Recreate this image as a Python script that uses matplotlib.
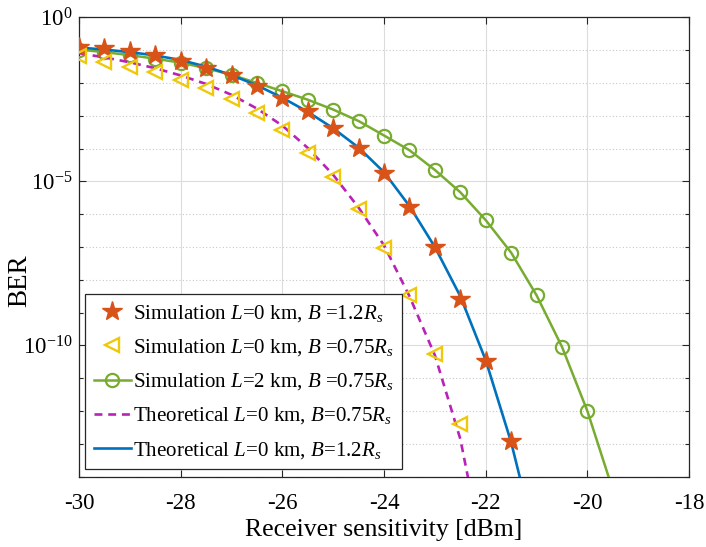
import numpy as np
import matplotlib
matplotlib.use("Agg")
import matplotlib.pyplot as plt
from matplotlib.ticker import LogLocator, FixedLocator, FuncFormatter, NullFormatter

plt.rcParams['font.family'] = ['Liberation Serif', 'DejaVu Serif']
plt.rcParams['mathtext.fontset'] = 'custom'
plt.rcParams['mathtext.rm'] = 'Liberation Serif'
plt.rcParams['mathtext.it'] = 'Liberation Serif:italic'
plt.rcParams['axes.unicode_minus'] = False

# received power (dBm) and log10(BER)
x_star = [-30, -29.5, -29, -28.5, -28, -27.5, -27, -26.5, -26, -25.5, -25, -24.5,
          -24, -23.5, -23, -22.5, -22, -21.5]
log_star = [-0.91, -0.94, -1.01, -1.14, -1.34, -1.55, -1.75, -2.08, -2.45, -2.86,
            -3.36, -3.97, -4.75, -5.78, -7.0, -8.57, -10.47, -12.9]

x_tri = [-30, -29.5, -29, -28.5, -28, -27.5, -27, -26.5, -26, -25.5, -25, -24.5,
         -24, -23.5, -23, -22.5]
log_tri = [-1.19, -1.35, -1.5, -1.65, -1.9, -2.15, -2.5, -2.91, -3.42, -4.12,
           -4.88, -5.84, -7.02, -8.47, -10.25, -12.4]

x_circ = [-30, -29.5, -29, -28.5, -28, -27.5, -27, -26.5, -26, -25.5, -25, -24.5,
          -24, -23.5, -23, -22.5, -22, -21.5, -21, -20.5, -20, -19.5]
log_circ = [-0.98, -1.06, -1.15, -1.26, -1.38, -1.55, -1.75, -2.0, -2.25, -2.51,
            -2.81, -3.16, -3.6, -4.05, -4.65, -5.33, -6.18, -7.17, -8.47, -10.04,
            -12.0, -14.4]

x_th075 = [-30, -29.5, -29, -28.5, -28, -27.5, -27, -26.5, -26, -25.5, -25, -24.5,
           -24, -23.5, -23, -22.5, -22.3]
log_th075 = [-1.09, -1.22, -1.37, -1.55, -1.77, -2.03, -2.36, -2.78, -3.3, -3.98,
             -4.8, -5.8, -6.95, -8.5, -10.3, -12.85, -14.4]

x_th12 = [-30, -29.5, -29, -28.5, -28, -27.5, -27, -26.5, -26, -25.5, -25, -24.5,
          -24, -23.5, -23, -22.5, -22, -21.5, -21.3]
log_th12 = [-0.92, -0.98, -1.06, -1.16, -1.3, -1.5, -1.76, -2.07, -2.45, -2.88,
            -3.38, -3.97, -4.72, -5.75, -7.0, -8.5, -10.45, -12.95, -14.2]

labels = [r"Simulation $L$=0 km, $B$ =1.2$R_s$",
          r"Simulation $L$=0 km, $B$ =0.75$R_s$",
          r"Simulation $L$=2 km, $B$ =0.75$R_s$",
          r"Theoretical $L$=0 km, $B$=0.75$R_s$",
          r"Theoretical $L$=0 km, $B$=1.2$R_s$"]

fig = plt.figure(figsize=(7.06, 5.47), dpi=100)
ax = fig.add_axes([0.112, 0.1285, 0.864, 0.8397])

ax.plot(x_star, 10.0 ** np.array(log_star), linestyle='none', marker='*',
        markersize=15, color='#D95319', label=labels[0], zorder=4)
ax.plot(x_tri, 10.0 ** np.array(log_tri), linestyle='none', marker='<',
        markersize=10.5, markerfacecolor='none', markeredgecolor='#F0C80A',
        markeredgewidth=1.7, label=labels[1], zorder=4)
ax.plot(x_circ, 10.0 ** np.array(log_circ), '-', color='#77AC30', linewidth=1.8,
        marker='o', markersize=9.5, markerfacecolor='none', markeredgewidth=1.6,
        markevery=slice(0, len(x_circ) - 1), label=labels[2], zorder=3)
ax.plot(x_th075, 10.0 ** np.array(log_th075), '--', color='#B822B8', linewidth=1.9,
        dashes=(3, 2.2), label=labels[3], zorder=3)
ax.plot(x_th12, 10.0 ** np.array(log_th12), '-', color='#0072BD', linewidth=1.9,
        label=labels[4], zorder=3)

ax.set_yscale('log')
ax.set_xlim(-30, -18)
ax.set_ylim(1e-14, 1)
ax.xaxis.set_major_locator(FixedLocator([-30, -28, -26, -24, -22, -20, -18]))
ax.yaxis.set_major_locator(FixedLocator([1e-10, 1e-5, 1e0]))
ax.yaxis.set_minor_locator(LogLocator(base=10, subs=(1.0,), numticks=30))
ax.yaxis.set_minor_formatter(NullFormatter())
ax.yaxis.set_major_formatter(FuncFormatter(lambda v, p: r"$10^{%d}$" % round(np.log10(v))))

ax.tick_params(which='both', direction='in', top=True, right=True,
               colors='#262626', labelcolor='black', labelsize=16.5)
ax.tick_params(which='major', length=5, width=0.8)
ax.tick_params(which='minor', length=3, width=0.8)
ax.tick_params(axis='x', pad=12)
ax.tick_params(axis='y', pad=5)

ax.grid(True, which='major', color='#DCDCDC', linewidth=0.8, linestyle='-')
ax.grid(True, which='minor', axis='y', color='#C8C8C8', linewidth=0.8, linestyle=(0, (1, 2)))
ax.set_axisbelow(True)
for s in ax.spines.values():
    s.set_color('#262626')
    s.set_linewidth(0.9)

ax.set_xlabel("Receiver sensitivity [dBm]", fontsize=18.5, labelpad=3)
ax.set_ylabel("BER", fontsize=19.5)
ax.yaxis.set_label_coords(-0.077, 0.426)

leg = ax.legend(loc='lower left', bbox_to_anchor=(0.01, 0.016), fontsize=15.1,
                frameon=True, fancybox=False, framealpha=1, edgecolor='#262626',
                handlelength=1.75, handletextpad=0.1, labelspacing=0.63,
                borderpad=0.42, borderaxespad=0)
leg.get_frame().set_linewidth(0.9)

fig.savefig("out.png", dpi=100)
